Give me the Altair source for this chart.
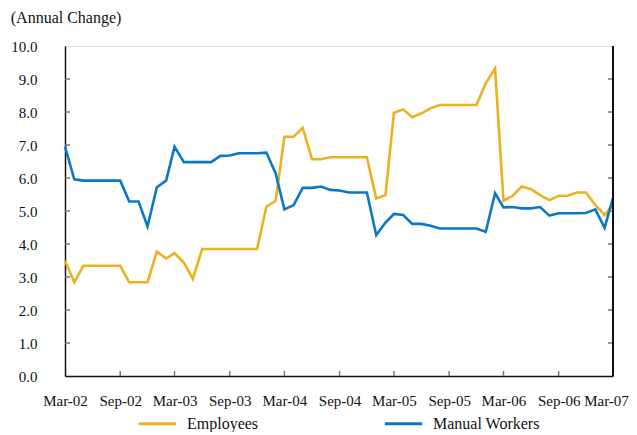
import altair as alt
import pandas as pd

months = pd.date_range("2002-03-01", "2007-03-01", freq="MS").strftime("%Y-%m-%d").tolist()

employees = [3.49, 2.84, 3.34, 3.34, 3.34, 3.34, 3.34, 2.84, 2.84, 2.84,
             3.77, 3.56, 3.72, 3.44, 2.94, 3.85, 3.85, 3.85, 3.85, 3.85,
             3.85, 3.85, 5.13, 5.31, 7.25, 7.25, 7.52, 6.57, 6.57, 6.63,
             6.63, 6.63, 6.63, 6.63, 5.38, 5.48, 7.98, 8.08, 7.84, 7.96,
             8.11, 8.21, 8.21, 8.21, 8.21, 8.21, 8.87, 9.32, 5.31, 5.46,
             5.74, 5.66, 5.48, 5.33, 5.46, 5.46, 5.56, 5.56, 5.18, 4.88,
             5.18]

manual = [6.95, 5.96, 5.92, 5.92, 5.92, 5.92, 5.92, 5.29, 5.29, 4.53,
          5.72, 5.92, 6.95, 6.48, 6.48, 6.48, 6.48, 6.67, 6.68, 6.75,
          6.75, 6.75, 6.77, 6.14, 5.05, 5.18, 5.70, 5.70, 5.74, 5.64,
          5.62, 5.56, 5.56, 5.56, 4.27, 4.65, 4.91, 4.88, 4.61, 4.61,
          4.55, 4.47, 4.47, 4.47, 4.47, 4.47, 4.37, 5.54, 5.11, 5.12,
          5.08, 5.08, 5.12, 4.86, 4.93, 4.93, 4.93, 4.94, 5.05, 4.49,
          5.40]

series_names = ["Employees", "Manual Workers"]
series_colors = ["#EDB120", "#0A78C4"]

y_tick_values = [0, 1, 2, 3, 4, 5, 6, 7, 8, 9, 10]
inner_y_ticks = [1, 2, 3, 4, 5, 6, 7, 8, 9]
x_tick_dates = ["2002-03-01", "2002-09-01", "2003-03-01", "2003-09-01", "2004-03-01",
                "2004-09-01", "2005-03-01", "2005-09-01", "2006-03-01", "2006-09-01",
                "2007-03-01"]
inner_x_ticks = x_tick_dates[1:-1]

df = pd.DataFrame({
    "month": months * 2,
    "value": employees + manual,
    "series": [series_names[0]] * len(months) + [series_names[1]] * len(months),
})
ytick_df = pd.DataFrame({"value": inner_y_ticks})
xtick_df = pd.DataFrame({"month": inner_x_ticks})

W, H = 548, 330
SERIF = "'Liberation Serif', 'Times New Roman', Times, serif"
TICK_COLOR = "#777777"


def dt(s):
    y, m, d = s.split("-")
    return alt.DateTime(year=int(y), month=int(m), date=int(d), utc=True)


x_scale = alt.Scale(type="utc", domain=[dt(x_tick_dates[0]), dt(x_tick_dates[-1])], nice=False)
y_scale = alt.Scale(domain=[0, 10], nice=False)

x_axis = alt.Axis(
    values=[dt(s) for s in x_tick_dates],
    labelExpr="utcFormat(datum.value, '%b-%y')",
    labelOffset={"condition": {"test": "utcyear(datum.value) >= 2007", "value": -7}, "value": 0},
    title=None, grid=False, ticks=False, tickSize=0, labelPadding=17,
    labelFont=SERIF, labelFontSize=15, labelColor="#111111",
    domainColor="#111111", domainWidth=1.5, labelFlush=False, labelOverlap=False,
)
y_axis = alt.Axis(
    values=y_tick_values, format=".1f", title=None, grid=False, ticks=False,
    tickSize=0, labelPadding=28, labelFont=SERIF, labelFontSize=15,
    labelColor="#111111", domainColor="#111111", domainWidth=1.5,
)

lines = alt.Chart(df).mark_line(strokeWidth=2.6).encode(
    x=alt.X("month:T", scale=x_scale, axis=x_axis),
    y=alt.Y("value:Q", scale=y_scale, axis=y_axis),
    color=alt.Color(
        "series:N",
        scale=alt.Scale(domain=series_names, range=series_colors),
        legend=alt.Legend(
            title=None, orient="none", direction="horizontal",
            legendX=72, legendY=357, symbolType="stroke", symbolSize=1400,
            symbolStrokeWidth=3, labelFont=SERIF, labelFontSize=16,
            labelColor="#111111", labelOffset=9, columnPadding=119,
        ),
    ),
)

left_ticks = alt.Chart(ytick_df).mark_rule(color=TICK_COLOR, strokeWidth=1.5).encode(
    y=alt.Y("value:Q", scale=y_scale, axis=y_axis),
    x=alt.value(0), x2=alt.value(5),
)
right_ticks = alt.Chart(ytick_df).mark_rule(color=TICK_COLOR, strokeWidth=1.5).encode(
    y=alt.Y("value:Q", scale=y_scale, axis=y_axis),
    x=alt.value(W - 5), x2=alt.value(W),
)
bottom_ticks = alt.Chart(xtick_df).mark_rule(color=TICK_COLOR, strokeWidth=1.5).encode(
    x=alt.X("month:T", scale=x_scale, axis=x_axis),
    y=alt.value(H - 5), y2=alt.value(H),
)
right_border = alt.Chart(ytick_df).mark_rule(color="#111111", strokeWidth=1.5).encode(
    x=alt.value(W), y=alt.value(0), y2=alt.value(H),
)

chart = alt.layer(lines, left_ticks, right_ticks, bottom_ticks, right_border).properties(
    width=W, height=H,
    title=alt.TitleParams(
        "(Annual Change)", anchor="start", frame="bounds", dx=0, dy=23, offset=23,
        baseline="alphabetic",
        font=SERIF, fontSize=16, fontWeight="normal", color="#111111",
    ),
    autosize=alt.AutoSizeParams(type="none"),
    padding={"left": 57, "top": 38, "right": 16, "bottom": 56},
).configure_view(stroke="#888888", strokeWidth=1.5).configure(background="white")

chart.save("out.html", embed_options={"renderer": "svg", "actions": False})
